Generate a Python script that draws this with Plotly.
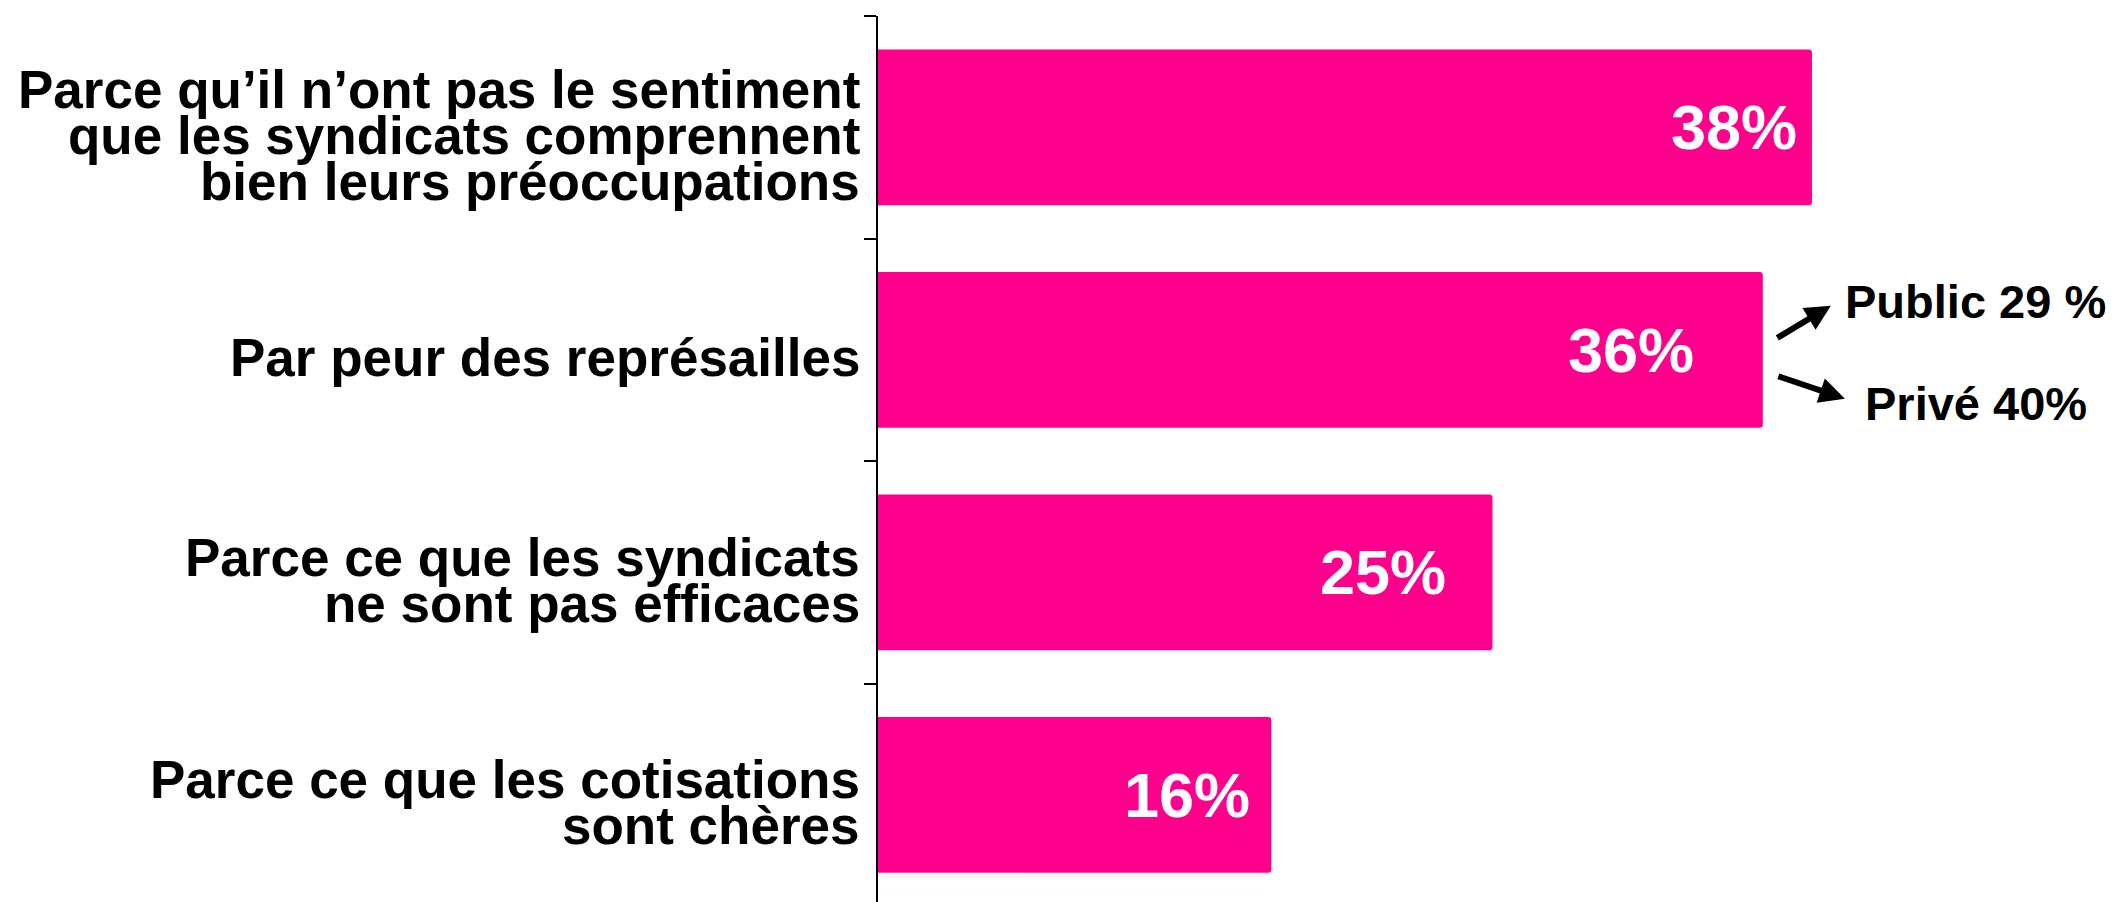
import plotly.graph_objects as go

# ---------------- data ----------------
categories = [
    "Parce qu’il n’ont pas le sentiment<br>que les syndicats comprennent<br>bien leurs préoccupations",
    "Par peur des représailles",
    "Parce ce que les syndicats<br>ne sont pas efficaces",
    "Parce ce que les cotisations<br>sont chères",
]
values = [38, 36, 25, 16]
value_labels = ["38%", "36%", "25%", "16%"]
breakdown_labels = ["Public 29 %", "Privé 40%"]
breakdown_values = [29, 40]

# ---------------- style ----------------
PINK = "#FF008C"
FONT = "Arial, 'Liberation Sans', sans-serif"
CAT_SIZE = 53
LINE_GAP = 46
LABEL_DROP = 8
VAL_SIZE = 63
SUB_SIZE = 47
label_gaps = [15, 69, 46, 21]  # px between bar end and value text (as in reference)

ypos = list(range(len(categories)))

fig = go.Figure(
    go.Bar(
        x=values,
        y=ypos,
        orientation="h",
        width=0.7,
        marker=dict(color=PINK, line=dict(width=0)),
        hoverinfo="skip",
    )
)

annotations = []
# category labels, line by line (tight leading as in reference)
for i, cat in enumerate(categories):
    lines = cat.split("<br>")
    n = len(lines)
    for j, line in enumerate(lines):
        annotations.append(dict(
            x=0, xref="x", y=i, yref="y",
            xanchor="right", yanchor="middle",
            xshift=-17,
            yshift=-((j - (n - 1) / 2) * LINE_GAP) - LABEL_DROP,
            text=line, showarrow=False, align="right", borderpad=0,
            font=dict(family=FONT, size=CAT_SIZE, color="black", weight="bold"),
        ))

# value labels inside bars
for i, (v, lab) in enumerate(zip(values, value_labels)):
    annotations.append(dict(
        x=v, xref="x", y=i, yref="y",
        xanchor="right", yanchor="middle",
        xshift=-(label_gaps[i] - 2),
        text=lab, showarrow=False,
        font=dict(family=FONT, size=VAL_SIZE, color="white", weight="bold"),
    ))

# breakdown arrows and texts for bar 2
arrow_specs = [
    dict(x=38.77, y=0.802, ax=36.53, ay=0.9506),
    dict(x=39.34, y=1.220, ax=36.57, ay=1.117),
]
for spec in arrow_specs:
    annotations.append(dict(
        xref="x", yref="y", axref="x", ayref="y",
        text="", showarrow=True, arrowhead=2, arrowsize=0.85,
        arrowwidth=6, arrowcolor="black", standoff=0, startstandoff=0,
        **spec,
    ))

sub_pos = [(44.67, 0.784), (44.67, 1.240)]
for lab, (sx, sy) in zip(breakdown_labels, sub_pos):
    annotations.append(dict(
        x=sx, xref="x", y=sy, yref="y",
        xanchor="center", yanchor="middle",
        text=lab, showarrow=False,
        font=dict(family=FONT, size=SUB_SIZE, color="black", weight="bold"),
    ))

fig.update_layout(
    width=2115, height=902,
    margin=dict(l=878, r=0, t=16, b=0, pad=0),
    paper_bgcolor="white", plot_bgcolor="white",
    showlegend=False,
    barcornerradius=3,
    annotations=annotations,
    xaxis=dict(range=[0, 50.33], visible=False, showgrid=False, zeroline=False),
    yaxis=dict(
        range=[3.482, -0.5],
        tickmode="array", tickvals=[-0.5, 0.5, 1.5, 2.5, 3.5],
        showticklabels=False,
        ticks="outside", ticklen=12, tickwidth=2, tickcolor="black",
        showline=True, linecolor="black", linewidth=2,
        showgrid=False, zeroline=False,
    ),
)

fig.write_html(
    "out.html",
    config={"displayModeBar": False},
    post_script="document.body.style.margin='0';document.body.style.overflow='hidden';",
)
